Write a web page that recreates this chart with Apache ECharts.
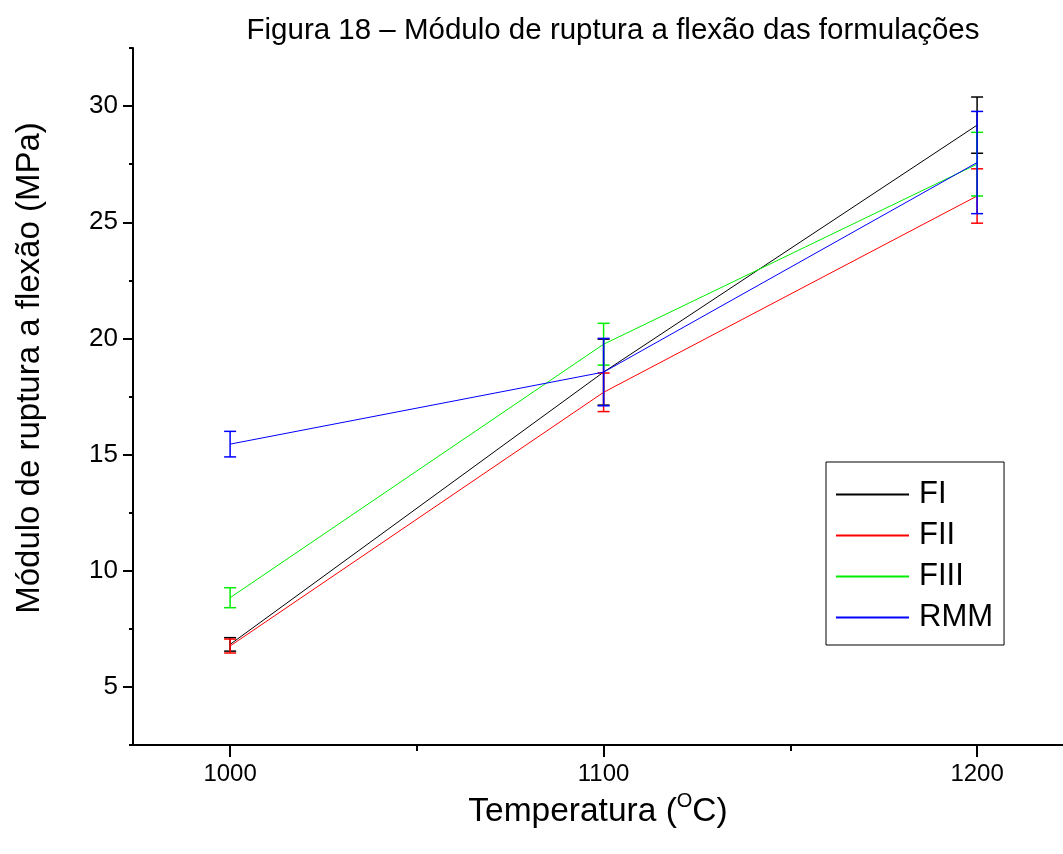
<!DOCTYPE html>
<html>
<head>
<meta charset="utf-8">
<script src="https://cdn.jsdelivr.net/npm/echarts@6/dist/echarts.min.js"></script>
<style>
  html, body { margin: 0; padding: 0; background: #fff; }
  #chart { width: 1063px; height: 854px; }
</style>
</head>
<body>
<div id="chart"></div>
<script>
// Firing temperature (°C)
const temperatures = [1000, 1100, 1200];

// Flexural rupture modulus (MPa): mean and standard deviation per formulation
const seriesNames = ['FI', 'FII', 'FIII', 'RMM'];
const fiMean   = [6.83, 18.55, 29.18];
const fiErr    = [0.29, 1.42, 1.21];
const fiiMean  = [6.76, 17.68, 26.13];
const fiiErr   = [0.30, 0.83, 1.17];
const fiiiMean = [8.84, 19.75, 27.50];
const fiiiErr  = [0.43, 0.90, 1.37];
const rmmMean  = [15.45, 18.55, 27.57];
const rmmErr   = [0.55, 1.45, 2.20];

// Axis ticks
const xMajorTicks = [1000, 1100, 1200];
const xMinorTicks = [1050, 1150];
const yMajorTicks = [5, 10, 15, 20, 25, 30];
const yMinorTicks = [2.5, 7.5, 12.5, 17.5, 22.5, 27.5, 32.5];

const colors = ['#000000', '#ff0000', '#00ee00', '#0000ff'];
const means = [fiMean, fiiMean, fiiiMean, rmmMean];
const errs = [fiErr, fiiErr, fiiiErr, rmmErr];

const FONT = 'Liberation Sans, Arial, sans-serif';

const series = [];
seriesNames.forEach((name, i) => {
  series.push({
    name: name,
    type: 'line',
    data: temperatures.map((t, k) => [t, means[i][k]]),
    showSymbol: false,
    symbol: 'none',
    lineStyle: { color: colors[i], width: 1 },
    itemStyle: { color: colors[i] },
    animation: false,
    z: 2 + i * 2
  });
  series.push({
    name: name,
    type: 'custom',
    data: temperatures.map((t, k) => [t, means[i][k] - errs[i][k], means[i][k] + errs[i][k]]),
    renderItem: function (params, api) {
      const x = api.value(0);
      const lo = api.coord([x, api.value(1)]);
      const hi = api.coord([x, api.value(2)]);
      const hw = 6;
      const style = { stroke: colors[i], lineWidth: 1.5, fill: null };
      return {
        type: 'group',
        children: [
          { type: 'line', shape: { x1: lo[0], y1: lo[1], x2: hi[0], y2: hi[1] }, style: style },
          { type: 'line', shape: { x1: lo[0] - hw, y1: lo[1], x2: lo[0] + hw, y2: lo[1] }, style: style },
          { type: 'line', shape: { x1: hi[0] - hw, y1: hi[1], x2: hi[0] + hw, y2: hi[1] }, style: style }
        ]
      };
    },
    encode: { x: 0, y: [1, 2] },
    animation: false,
    z: 3 + i * 2
  });
});

const chart = echarts.init(document.getElementById('chart'));
chart.setOption({
  animation: false,
  backgroundColor: '#fff',
  title: {
    text: 'Figura 18 – Módulo de ruptura a flexão das formulações',
    left: 608,
    top: 11,
    textAlign: 'center',
    textStyle: { fontFamily: FONT, fontSize: 29.5, fontWeight: 'normal', color: '#000' }
  },
  grid: { left: 133, right: 0, top: 48, bottom: 109 },
  legend: {
    data: seriesNames,
    orient: 'vertical',
    left: 826,
    top: 462,
    padding: [17, 11, 12, 10],
    itemGap: 10,
    itemWidth: 73,
    itemHeight: 2,
    icon: 'rect',
    borderColor: '#000',
    borderWidth: 1,
    backgroundColor: '#fff',
    selectedMode: false,
    textStyle: { fontFamily: FONT, fontSize: 31, color: '#000', padding: [0, 0, 0, 5], lineHeight: 30 }
  },
  xAxis: [
    {
      type: 'value',
      min: 974, max: 1223,
      axisLine: { show: true, lineStyle: { color: '#000', width: 2 } },
      axisTick: { show: true, customValues: xMajorTicks, length: 12, lineStyle: { color: '#000', width: 2 } },
      axisLabel: {
        customValues: xMajorTicks, margin: 17, fontFamily: FONT, fontSize: 24, color: '#000',
        formatter: function (v) { return String(v); }
      },
      splitLine: { show: false },
      name: '{n|Temperatura (}{s|O}{n|C)}',
      nameLocation: 'middle',
      nameGap: 46,
      nameTextStyle: {
        rich: {
          n: { fontFamily: FONT, fontSize: 33.5, color: '#000', verticalAlign: 'bottom', lineHeight: 38 },
          s: { fontFamily: FONT, fontSize: 20, color: '#000', verticalAlign: 'top', lineHeight: 38, padding: [0, 0, 15, 0] }
        }
      }
    },
    {
      type: 'value',
      min: 974, max: 1223,
      position: 'bottom',
      axisLine: { show: false },
      axisTick: { show: true, customValues: xMinorTicks, length: 6, lineStyle: { color: '#000', width: 2 } },
      axisLabel: { show: false },
      splitLine: { show: false }
    }
  ],
  yAxis: [
    {
      type: 'value',
      min: 2.5, max: 32.5,
      axisLine: { show: true, lineStyle: { color: '#000', width: 2 } },
      axisTick: { show: true, customValues: yMajorTicks, length: 10, lineStyle: { color: '#000', width: 2 } },
      axisLabel: { customValues: yMajorTicks, margin: 15, fontFamily: FONT, fontSize: 26, color: '#000' },
      splitLine: { show: false }
    },
    {
      type: 'value',
      min: 2.5, max: 32.5,
      position: 'left',
      axisLine: { show: false },
      axisTick: { show: true, customValues: yMinorTicks, length: 4, lineStyle: { color: '#000', width: 2 } },
      axisLabel: { show: false },
      splitLine: { show: false }
    }
  ],
  graphic: [
    {
      type: 'text',
      x: 30,
      y: 368,
      rotation: Math.PI / 2,
      style: {
        text: 'Módulo de ruptura a flexão (MPa)',
        font: '33px ' + FONT,
        fill: '#000',
        align: 'center',
        verticalAlign: 'middle'
      }
    }
  ],
  series: series
});
</script>
</body>
</html>
